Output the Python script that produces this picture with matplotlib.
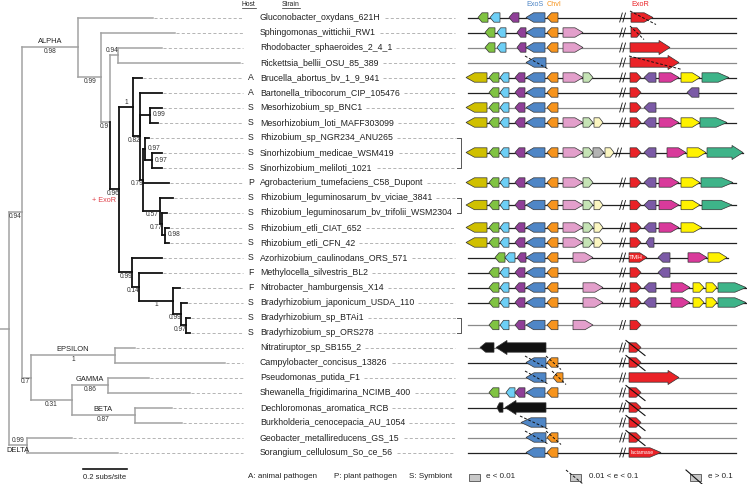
import re
import matplotlib
matplotlib.use("Agg")
import matplotlib.pyplot as plt
from matplotlib.patches import Polygon, Rectangle

plt.rcParams["font.family"] = ["Liberation Sans", "DejaVu Sans"]
plt.rcParams["lines.scale_dashes"] = False

# tree, branch lengths in subs/site; label = support[@a|@r][*][#CLADE]
TREE = """
((
 (Gluconobacter_oxydans_621H:0.341,
  (Sphingomonas_wittichii_RW1:0.336,
   ((Rhodobacter_sphaeroides_2_4_1:0.2,Rickettsia_bellii_OSU_85_389:0.555)0.94@a:0.036,
    ((Brucella_abortus_bv_1_9_941:0.041,
      (Bartonella_tribocorum_CIP_105476:0.1,
       (Mesorhizobium_sp_BNC1:0.055,Mesorhizobium_loti_MAFF303099:0.036)0.99@r:0.045,
       ((Rhizobium_sp_NGR234_ANU265:0.018,
         (Sinorhizobium_medicae_WSM419:0.045,Sinorhizobium_meliloti_1021:0.045)0.97@r:0.032)0.97@r:0.009,
        Agrobacterium_tumefaciens_C58_Dupont:0.114,
        (Rhizobium_leguminosarum_bv_viciae_3841:0.059,
         (Rhizobium_leguminosarum_bv_trifolii_WSM2304:0.023,
          (Rhizobium_etli_CIAT_652:0.014,Rhizobium_etli_CFN_42:0.014)0.98@r:0.014)0.77:0.009)0.57:0.077
       )0.79:0.014
      )0.82:0.032
     )1@a:0.064,
     (Azorhizobium_caulinodans_ORS_571:0.136,
      (Methylocella_silvestris_BL2:0.105,
       (Nitrobacter_hamburgensis_X14:0.032,
        (Bradyrhizobium_japonicum_USDA_110:0.027,
         (Bradyrhizobium_sp_BTAi1:0.018,Bradyrhizobium_sp_ORS278:0.018)0.97:0.023)0.99:0.036
       )1:0.155
      )0.14:0.032
     )0.99:0.059
    )0.96*:0.041
   )0.9:0.041
  )0.99:0.105
 )0.98#ALPHA:0.255,
 ((Nitratiruptor_sp_SB155_2:0.091,Campylobacter_concisus_13826:0.5)1#EPSILON:0.382,
  ((Pseudomonas_putida_F1:0.186,Shewanella_frigidimarina_NCIMB_400:0.373)0.86#GAMMA:0.164,
   (Dechloromonas_aromatica_RCB:0.168,Burkholderia_cenocepacia_AU_1054:0.214)0.87#BETA:0.286
  )0.31:0.186
 )0.7:0.041
)0.94:0.059,
(Geobacter_metallireducens_GS_15:0.205,Sorangium_cellulosum_So_ce_56:0.414)0.99@a#DELTA:0.082
):0.041;
"""

HOSTS = ["", "", "", "", "A", "A", "S", "S", "S", "S", "S", "P", "S", "S", "S",
         "S", "S", "F", "F", "S", "S", "S", "", "", "", "", "", "", "", ""]

BRACKETS = [(8, 10), (12, 13), (20, 21)]

GENE_COLORS = {
    "olive": "#d0c000", "lime": "#80c342", "sky": "#6dcff6", "plum": "#8f3f97",
    "exoS": "#4f86c6", "chvI": "#f7941d", "pink": "#e39fcb", "mint": "#c5e3b5",
    "cream": "#fbf6c0", "grey": "#b3b3b3", "exoR": "#ea2227", "violet": "#7b5aa6",
    "magenta": "#d93a9b", "yellow": "#fff200", "teal": "#3eb489", "black": "#111111",
}

# usual gene positions on the locus panel (start, end, strand)
STD = {
    "olive": (466, 487, -1), "lime": (489, 499, -1), "sky": (500, 509, -1),
    "plum": (515, 525, -1), "exoS": (526, 545, -1), "chvI": (547, 558, -1),
    "pink": (563, 583, 1), "mint": (583, 593, 1), "cream": (594, 603, 1),
    "exoR": (630, 641, 1), "violet": (644, 656, -1), "magenta": (659, 679, 1),
    "yellow": (681, 700, 1), "teal": (702, 729, 1),
}

BRADY = ["lime", "sky", "plum", "exoS", "chvI", ("pink", 583, 603, 1), "exoR", "violet",
         ("magenta", 671, 690, 1), ("yellow", 693, 704, 1), ("yellow", 706, 717, 1),
         ("teal", 718, 746, 1)]

# (row, genes); gene = key or (key, start, end, strand, evalue class, text)
GENE_ROWS = [
    (0, [("lime", 478, 488, -1), ("sky", 490, 500, -1), ("plum", 509, 519, -1), "exoS", "chvI",
         ("exoR", 631, 653, 1, 1)]),
    (1, [("lime", 485, 495, -1), ("sky", 497, 506, -1), ("plum", 517, 526, -1), "exoS", "chvI",
         "pink", ("exoR", 631, 641, 1, 1)]),
    (2, [("lime", 485, 495, -1), ("sky", 497, 506, -1), ("plum", 517, 526, -1), "exoS", "chvI",
         "pink", ("exoR", 630, 670, 1)]),
    (3, [("exoS", 526, 546, -1, 1), ("exoR", 630, 679, 1, 1)]),
    (4, ["olive", "lime", "sky", "plum", "exoS", "chvI", "pink", "mint", "exoR", "violet",
         "magenta", "yellow", "teal"]),
    (5, ["lime", "sky", "plum", "exoS", "chvI", "exoR", ("violet", 687, 699, -1)]),
    (6, ["olive", "lime", "sky", "plum", "exoS", "chvI", "exoR", "violet"]),
    (7, ["olive", "lime", "sky", "plum", "exoS", "chvI", "pink", "mint", "cream", "exoR",
         "violet", "magenta", "yellow", ("teal", 700, 727, 1)]),
    (9, ["olive", "lime", "sky", "plum", "exoS", "chvI", "pink", "mint", ("grey", 593, 604, 1),
         ("cream", 605, 614, 1), "exoR", "violet", ("magenta", 667, 686, 1),
         ("yellow", 687, 706, 1), ("teal", 707, 743, 1)]),
    (11, ["olive", "lime", "sky", "plum", "exoS", "chvI", "pink", "mint", "exoR", "violet",
          "magenta", "yellow", ("teal", 701, 733, 1)]),
    (12.5, ["olive", "lime", "sky", "plum", "exoS", "chvI", "pink", "mint", "cream", "exoR",
            "violet", "magenta", "yellow", ("teal", 702, 732, 1)]),
    (14, ["olive", "lime", "sky", "plum", "exoS", "chvI", "pink", "mint", "cream", "exoR",
          "violet", "magenta", ("yellow", 681, 702, 1)]),
    (15, ["olive", "lime", "sky", "plum", "exoS", "chvI", "pink", "mint", "cream", "exoR",
          ("violet", 646, 654, -1)]),
    (16, [("lime", 495, 505, -1), ("sky", 505, 515, -1), ("plum", 517, 526, -1), "exoS", "chvI",
          ("pink", 573, 593, 1), ("exoR", 629, 647, 1, 0, "TMH"), ("violet", 658, 670, -1),
          ("magenta", 688, 707, 1), ("yellow", 708, 727, 1)]),
    (17, ["lime", "sky", "plum", "exoS", "chvI", "exoR", ("violet", 658, 670, -1)]),
    (18, BRADY),
    (19, BRADY),
    (20.5, ["lime", "sky", "plum", "exoS", "chvI", ("pink", 573, 593, 1), "exoR"]),
    (22, [("black", 480, 494, -1), ("black", 496, 546, -1), ("exoR", 629, 641, 1, 2)]),
    (23, [("exoS", 526, 546, -1, 1), ("chvI", 547, 558, -1, 1), ("exoR", 629, 641, 1, 2)]),
    (24, [("exoS", 526, 546, -1, 1), ("chvI", 553, 563, -1, 1), ("exoR", 629, 679, 1)]),
    (25, ["lime", ("sky", 506, 515, -1), "plum", "exoS", "chvI", ("exoR", 629, 641, 1, 2)]),
    (26, [("black", 497, 503, -1), ("black", 505, 546, -1), ("exoR", 629, 641, 1, 2)]),
    (27, [("exoS", 521, 546, -1, 1), ("exoR", 629, 641, 1, 2)]),
    (28, [("exoS", 526, 546, -1, 1), ("chvI", 547, 558, -1, 1), ("exoR", 629, 641, 1, 2)]),
    (29, ["exoS", "chvI", ("exoR", 629, 661, 1, 0, "lactamase")]),
]

LOCUS_END = {6: 733, 9: 743, 16: 728, 18: 746, 19: 746}
BREAK_AT = {9: 617}
GREY_LOCUS = {2, 3, 6, 20.5, 22, 24, 25, 27, 28}

# layout (pixels)
PX = 220.0
ROW0, STEP = 17.5, 15.0
GREY, DARK = "#a3a3a3", "#111111"
LEAD_END = 455
H = 4.7


def parse(s):
    s = "".join(s.split())
    pos = 0

    def node():
        nonlocal pos
        kids = []
        if s[pos] == "(":
            pos += 1
            while True:
                kids.append(node())
                c = s[pos]
                pos += 1
                if c == ")":
                    break
        m = re.match(r"([^:,();]*)(?::([0-9.]+))?", s[pos:])
        pos += m.end()
        return {"label": m.group(1), "bl": float(m.group(2) or 0), "kids": kids}

    return node()


root = parse(TREE)
tips = []


def layout(n, px, black):
    n["px"] = px
    n["x"] = px + n["bl"] * PX
    m = re.match(r"([0-9.]*)(@[ar])?(\*)?(#\w+)?$", n["label"]) if n["kids"] else None
    n["sup"] = m.group(1) if m else ""
    n["place"] = (m.group(2) or "@b")[1] if m else "b"
    n["black"] = black or bool(m and m.group(3))
    n["clade"] = m.group(4)[1:] if m and m.group(4) else ""
    if n["kids"]:
        for k in n["kids"]:
            layout(k, n["x"], n["black"])
        n["y"] = (n["kids"][0]["y"] + n["kids"][-1]["y"]) / 2
    else:
        n["y"] = ROW0 + STEP * len(tips)
        tips.append(n)


layout(root, 0.0, False)

fig = plt.figure(figsize=(7.47, 4.84), dpi=100)
ax = fig.add_axes([0, 0, 1, 1])
ax.set_xlim(0, 747)
ax.set_ylim(484, 0)
ax.axis("off")


def line_style(n):
    return dict(color=DARK if n["black"] else GREY, lw=1.3 if n["black"] else 1.1,
                solid_capstyle="projecting")


def draw(n):
    ax.plot([n["px"], n["x"]], [n["y"], n["y"]], **line_style(n))
    for k in n["kids"]:
        ax.plot([n["x"], n["x"]], [n["y"], k["y"]], **line_style(k))
        draw(k)
    if n["kids"]:
        mid = (n["px"] + n["x"]) / 2
        if n["sup"]:
            if n["place"] == "r":
                ax.text(n["x"] + 2.5, n["y"], n["sup"], fontsize=4.8, color="#333333",
                        ha="left", va="center")
            else:
                dy = -4.2 if n["place"] == "a" else 4.2
                ax.text(min(mid, n["x"] - 6), n["y"] + dy, n["sup"], fontsize=4.8,
                        color="#333333", ha="center", va="center")
        if n["clade"]:
            dy = 5.5 if n["place"] == "a" else -5.5
            ax.text(mid, n["y"] + dy, n["clade"], fontsize=5.4, color="#222222",
                    ha="center", va="center")
        if n["black"] and n["label"].endswith("*"):
            ax.text(n["x"] - 3, n["y"] + 11, "+ ExoR", fontsize=5.2, color="#e0414a",
                    ha="right", va="center")


draw(root)

renderer = fig.canvas.get_renderer()
inv = ax.transData.inverted()
lead = dict(color="#a8a8a8", lw=0.6, linestyle=(0, (2.2, 1.6)))
bracketed = {i for a, b in BRACKETS for i in range(a, b + 1)}

for i, t in enumerate(tips):
    y = t["y"]
    if t["x"] < 243:
        ax.plot([t["x"] + 1, 243], [y, y], **lead)
    if HOSTS[i]:
        ax.text(248, y, HOSTS[i], fontsize=6.3, ha="left", va="center", color="#222222")
    txt = ax.text(260, y, t["label"], fontsize=6.3, ha="left", va="center", color="#222222")
    bb = txt.get_window_extent(renderer)
    x_end = inv.transform((bb.x1, bb.y0))[0]
    end = LEAD_END + (1 if i in bracketed else 0)
    ax.plot([x_end + 4, end], [y, y], **lead)

for a, b in BRACKETS:
    ya, yb = ROW0 + STEP * a, ROW0 + STEP * b
    ax.plot([457, 461, 461, 457], [ya, ya, yb, yb], color="#555555", lw=0.7)


def gene(x0, x1, y, strand, color, ev=0, text=""):
    L = x1 - x0
    hl = min(0.4 * L, 11)
    hh = H * 1.5 if L >= 35 else H
    if strand > 0:
        pts = [(x0, y - H), (x1 - hl, y - H), (x1 - hl, y - hh), (x1, y),
               (x1 - hl, y + hh), (x1 - hl, y + H), (x0, y + H)]
    else:
        pts = [(x1, y - H), (x0 + hl, y - H), (x0 + hl, y - hh), (x0, y),
               (x0 + hl, y + hh), (x0 + hl, y + H), (x1, y + H)]
    ax.add_patch(Polygon(pts, closed=True, facecolor=color, edgecolor="#333333",
                         lw=0.5, zorder=3))
    if text:
        ax.text((x0 + x1 - hl * 0.6) / 2, y, text, fontsize=4.6 if len(text) < 5 else 3.6,
                color="white", ha="center", va="center", zorder=4)
    if ev == 1:
        ax.plot([x0 - 1, x1 + 3], [y - 6.5, y + 7], color="#111111", lw=0.7,
                linestyle=(0, (2, 1.3)), zorder=4)
    elif ev == 2:
        ax.plot([x0 - 3, x1 + 4], [y - 7, y + 8], color="#111111", lw=0.8, zorder=4)


for row, genes in GENE_ROWS:
    y = ROW0 + STEP * row
    ax.plot([468, LOCUS_END.get(row, 736)], [y, y],
            color="#8a8a8a" if row in GREY_LOCUS else "#222222", lw=0.9, zorder=1)
    bx = BREAK_AT.get(row, 621)
    for dx in (0, 3.2):
        ax.plot([bx + dx - 1.3, bx + dx + 1.3], [y + 4.5, y - 4.5], color="#111111",
                lw=0.6, zorder=2)
    for g in genes:
        if isinstance(g, str):
            g = (g,) + STD[g]
        key, x0, x1, strand = g[:4]
        ev = g[4] if len(g) > 4 else 0
        text = g[5] if len(g) > 5 else ""
        gene(x0, x1, y, strand, GENE_COLORS[key], ev, text)

# headers
for x, s in [(242, "Host"), (282, "Strain")]:
    t = ax.text(x, 5, s, fontsize=4.9, ha="left", va="center", color="#222222")
    bb = t.get_window_extent(renderer)
    x1 = inv.transform((bb.x1, bb.y0))[0]
    ax.plot([x, x1], [8.3, 8.3], color="#222222", lw=0.5)
ax.text(526, 5, "ExoS", fontsize=5.2, color=GENE_COLORS["exoS"], ha="left", va="center")
ax.text(547, 5, "ChvI", fontsize=5.2, color=GENE_COLORS["chvI"], ha="left", va="center")
ax.text(631, 5, "ExoR", fontsize=5.2, color=GENE_COLORS["exoR"], ha="left", va="center")

# scale bar
ax.plot([83, 83 + 0.2 * PX], [469, 469], color="#111111", lw=1.2)
ax.text(83 + 0.1 * PX, 477.5, "0.2 subs/site", fontsize=5.5, ha="center", va="center",
        color="#222222")

# legend
ly = 477
for x, s in [(248, "A: animal pathogen"), (334, "P: plant pathogen"), (409, "S: Symbiont"),
             (486, "e < 0.01"), (589, "0.01 < e < 0.1"), (708, "e > 0.1")]:
    ax.text(x, ly, s, fontsize=5.8, ha="left", va="center", color="#222222")
for bx, ev in [(469, 0), (570, 1), (690, 2)]:
    ax.add_patch(Rectangle((bx, ly - 3.5), 11, 7, facecolor="#c8c8c8", edgecolor="#333333",
                           lw=0.5))
    if ev == 1:
        ax.plot([bx - 4, bx + 13], [ly - 7, ly + 7], color="#111111", lw=0.7,
                linestyle=(0, (2, 1.3)))
    elif ev == 2:
        ax.plot([bx - 4, bx + 12], [ly - 7, ly + 7], color="#111111", lw=0.8)

fig.savefig("out.png", dpi=100)
